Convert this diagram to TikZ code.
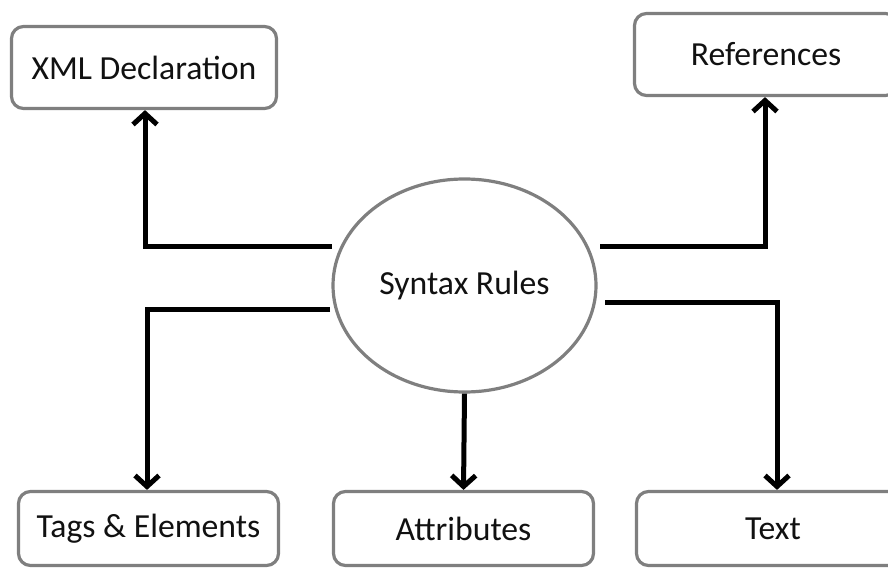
\documentclass[tikz,border=0pt]{standalone}
\usepackage{fontspec}
\setmainfont{Carlito}
\usetikzlibrary{arrows.meta,shapes.geometric}
\definecolor{bordergray}{HTML}{7F7F7F}
\definecolor{txt}{HTML}{111111}
\begin{document}
\begin{tikzpicture}[x=1pt,y=-1pt,
  box/.style={draw=bordergray,line width=3.2pt,rounded corners=12pt,fill=white,
    inner sep=0pt,font=\fontsize{33.7}{36}\selectfont,text=txt},
  hub/.style={draw=bordergray,line width=3.2pt,ellipse,fill=white,inner sep=0pt,
    minimum width=263pt,minimum height=213pt,font=\fontsize{33.7}{36}\selectfont,text=txt},
  conn/.style={line width=5pt,black,-{Straight Barb[length=11pt,width=24pt]}}]
\useasboundingbox (0,0) rectangle (888,569);
\clip (0,0) rectangle (888,569);
% nodes
\node[hub] (syn) at (464.5,285.5) {Syntax Rules};
\node[box,minimum width=265pt,minimum height=82pt] (xml) at (144,67.5) {XML Declaration};
\node[box,minimum width=263pt,minimum height=82pt] (ref) at (766,54.5) {References};
\node[box,minimum width=260pt,minimum height=74pt] (tags) at (148.5,528.5) {Tags \& Elements};
\node[box,minimum width=260pt,minimum height=74pt] (attr) at (463.5,528.5) {Attributes};
\node[box,minimum width=273pt,minimum height=74pt] (text) at (773,528.5) {Text};
% connector start points beside the ellipse
\coordinate (a1) at (332,247);
\coordinate (a2) at (330,309);
\coordinate (a3) at (600,247);
\coordinate (a4) at (605,302);
% connectors
\draw[conn] (a1) -| ([xshift=1pt]xml.south);
\draw[conn] (a3) -| ([xshift=-1pt]ref.south);
\draw[conn] (a2) -| ([xshift=-1.5pt]tags.north);
\draw[conn] (a4) -| ([xshift=4pt]text.north);
\draw[conn] (syn.south) -- (attr.north);
\end{tikzpicture}
\end{document}
